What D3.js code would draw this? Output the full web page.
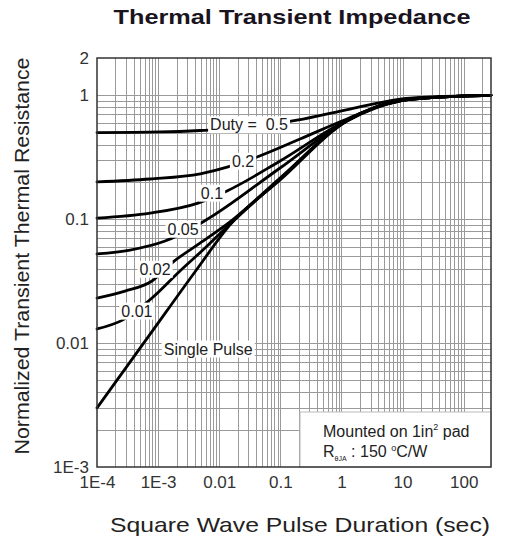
<!DOCTYPE html>
<html>
<head>
<meta charset="utf-8">
<script src="https://cdn.jsdelivr.net/npm/d3@7"></script>
<style>
  body { margin: 0; background: #fff; }
  text { font-family: "Liberation Sans", Arial, sans-serif; }
</style>
</head>
<body>
<svg id="chart" width="505" height="544"></svg>
<script>
// Axis ticks
const xTickValues = [1e-4, 1e-3, 0.01, 0.1, 1, 10, 100];
const xTickLabels = ["1E-4", "1E-3", "0.01", "0.1", "1", "10", "100"];
const yTickValues = [1e-3, 0.01, 0.1, 1, 2];
const yTickLabels = ["1E-3", "0.01", "0.1", "1", "2"];

// Normalized transient thermal resistance curves: [pulse duration (s), r(t)]
const duty050 = [[1e-4,0.50],[1.07e-3,0.506],[4.9e-3,0.52],[0.032,0.554],[0.187,0.63],[1.38,0.775],[9.1,0.933],[41,0.978],[280,1.0]];
const duty020 = [[1e-4,0.20],[7.4e-4,0.211],[4.9e-3,0.232],[0.0139,0.264],[0.0416,0.318],[0.21,0.444],[1.23,0.644],[9.1,0.92],[41,0.97],[280,1.0]];
const duty010 = [[1e-4,0.102],[7.4e-4,0.112],[4.5e-3,0.135],[0.0134,0.169],[0.099,0.295],[1.23,0.63],[9.1,0.915],[41,0.968],[280,1.0]];
const duty005 = [[1e-4,0.0524],[3.47e-4,0.0564],[1.3e-3,0.0667],[5.4e-3,0.095],[0.099,0.259],[1.23,0.62],[9.1,0.90],[41,0.967],[280,1.0]];
const duty002 = [[1e-4,0.0231],[2.87e-4,0.0263],[7.95e-4,0.0317],[1.75e-3,0.0451],[4.9e-3,0.0643],[0.015,0.095],[0.099,0.215],[1.23,0.625],[9.1,0.90],[41,0.967],[280,1.0]];
const duty001 = [[1e-4,0.013],[2.66e-4,0.0154],[7.95e-4,0.0231],[2.28e-3,0.0382],[5.86e-3,0.0585],[0.015,0.0915],[0.099,0.211],[1.23,0.625],[9.1,0.90],[41,0.967],[280,1.0]];
const singlePulse = [[1e-4,0.003],[7.4e-4,0.0118],[4.0e-3,0.0375],[0.015,0.09],[0.099,0.207],[1.23,0.62],[9.1,0.90],[41,0.967],[280,1.0]];

const curves = [duty050, duty020, duty010, duty005, duty002, duty001, singlePulse];

// Curve labels and where they sit on the chart (data coordinates)
const curveLabels = ["Duty =  0.5", "0.2", "0.1", "0.05", "0.02", "0.01", "Single Pulse"];
const labelT = [0.0307, 0.0245, 7.6e-3, 2.56e-3, 8.9e-4, 4.5e-4, 6.6e-3];
const labelV = [0.581, 0.295, 0.163, 0.0834, 0.0396, 0.0182, 0.009];

const svg = d3.select("#chart");
const plot = { left: 97, right: 491, top: 58, bottom: 467 };

const x = d3.scaleLog().domain([1e-4, 280]).range([plot.left, plot.right]);
const y = d3.scaleLog().domain([1e-3, 2]).range([plot.bottom, plot.top]);

// Log grid: every integer multiple within each decade
const gridX = [];
for (let d = -4; d <= 2; d++) for (let m = 1; m <= 9; m++) {
  const v = m * Math.pow(10, d);
  if (v > 1e-4 * 1.0001 && v < 280) gridX.push(v);
}
const gridY = [];
for (let d = -3; d <= 0; d++) for (let m = 1; m <= 9; m++) {
  const v = m * Math.pow(10, d);
  if (v > 1e-3 * 1.0001 && v < 2) gridY.push(v);
}

const grid = svg.append("g").attr("stroke", "#9a9a9a").attr("stroke-width", 1);
grid.selectAll("line.gx").data(gridX).join("line").attr("class", "gx")
  .attr("x1", d => Math.round(x(d)) + 0.5).attr("x2", d => Math.round(x(d)) + 0.5)
  .attr("y1", plot.top).attr("y2", plot.bottom);
grid.selectAll("line.gy").data(gridY).join("line").attr("class", "gy")
  .attr("y1", d => Math.round(y(d)) + 0.5).attr("y2", d => Math.round(y(d)) + 0.5)
  .attr("x1", plot.left).attr("x2", plot.right);

// Mounting note box (sits over the grid in the lower right)
const noteX = x(0.21), noteY = y(0.00278);
svg.append("rect")
  .attr("x", noteX).attr("y", noteY)
  .attr("width", plot.right - noteX).attr("height", plot.bottom - noteY)
  .attr("fill", "#fff").attr("stroke", "#bbb").attr("stroke-width", 1);

const note1 = svg.append("text").attr("x", noteX + 23).attr("y", noteY + 25)
  .attr("font-size", 16).attr("fill", "#222");
note1.append("tspan").text("Mounted on 1in");
note1.append("tspan").attr("font-size", 9).attr("dy", -7).text("2");
note1.append("tspan").attr("dy", 7).text(" pad");

const note2 = svg.append("text").attr("x", noteX + 23).attr("y", noteY + 45)
  .attr("font-size", 16).attr("fill", "#222");
note2.append("tspan").text("R");
note2.append("tspan").attr("font-size", 7).attr("dy", 4).text("θJA");
note2.append("tspan").attr("dy", -4).text(" : 150 ");
note2.append("tspan").attr("font-size", 9).attr("dy", -6).text("o");
note2.append("tspan").attr("dy", 6).text("C/W");

// Curves
const line = d3.line()
  .x(d => x(d[0])).y(d => y(d[1]))
  .curve(d3.curveMonotoneX);

svg.append("g").selectAll("path").data(curves).join("path")
  .attr("d", line)
  .attr("fill", "none").attr("stroke", "#000").attr("stroke-width", 2.8)
  .attr("stroke-linejoin", "round").attr("stroke-linecap", "round");

// Curve labels on white boxes
const labels = svg.append("g").selectAll("g").data(curveLabels).join("g")
  .attr("transform", (d, i) => `translate(${x(labelT[i])},${y(labelV[i])})`);
labels.append("text")
  .attr("text-anchor", "middle").attr("dy", "0.36em")
  .attr("font-size", 16).attr("fill", "#222")
  .attr("xml:space", "preserve")
  .text(d => d);
labels.each(function () {
  const g = d3.select(this);
  const bb = g.select("text").node().getBBox();
  g.insert("rect", "text")
    .attr("x", bb.x - 2).attr("y", bb.y)
    .attr("width", bb.width + 4).attr("height", bb.height)
    .attr("fill", "#fff");
});

// Plot frame
svg.append("rect")
  .attr("x", plot.left).attr("y", plot.top)
  .attr("width", plot.right - plot.left).attr("height", plot.bottom - plot.top)
  .attr("fill", "none").attr("stroke", "#333").attr("stroke-width", 1.5);

// Axes (labels only, ticks are the grid)
const xAxis = d3.axisBottom(x).tickValues(xTickValues)
  .tickFormat((d, i) => xTickLabels[i]).tickSize(0).tickPadding(9);
const gx = svg.append("g").attr("transform", `translate(0,${plot.bottom})`).call(xAxis);
gx.select(".domain").remove();
gx.selectAll("text").attr("font-size", 17).attr("fill", "#333")
  .attr("font-family", "'Liberation Sans', Arial, sans-serif");

const yAxis = d3.axisLeft(y).tickValues(yTickValues)
  .tickFormat((d, i) => yTickLabels[i]).tickSize(0).tickPadding(8);
const gy = svg.append("g").attr("transform", `translate(${plot.left},0)`).call(yAxis);
gy.select(".domain").remove();
gy.selectAll("text").attr("font-size", 17).attr("fill", "#333")
  .attr("font-family", "'Liberation Sans', Arial, sans-serif");

// Titles
svg.append("text").attr("x", 292).attr("y", 24).attr("text-anchor", "middle")
  .attr("font-size", 21).attr("font-weight", "bold").attr("fill", "#1a1420")
  .attr("textLength", 357).attr("lengthAdjust", "spacingAndGlyphs")
  .text("Thermal Transient Impedance");

svg.append("text").attr("x", 300).attr("y", 532).attr("text-anchor", "middle")
  .attr("font-size", 21).attr("fill", "#222")
  .attr("textLength", 380).attr("lengthAdjust", "spacingAndGlyphs")
  .text("Square Wave Pulse Duration (sec)");

svg.append("text")
  .attr("transform", "translate(29,256) rotate(-90)")
  .attr("text-anchor", "middle")
  .attr("font-size", 20).attr("fill", "#222")
  .attr("textLength", 397).attr("lengthAdjust", "spacingAndGlyphs")
  .text("Normalized Transient Thermal Resistance");
</script>
</body>
</html>
